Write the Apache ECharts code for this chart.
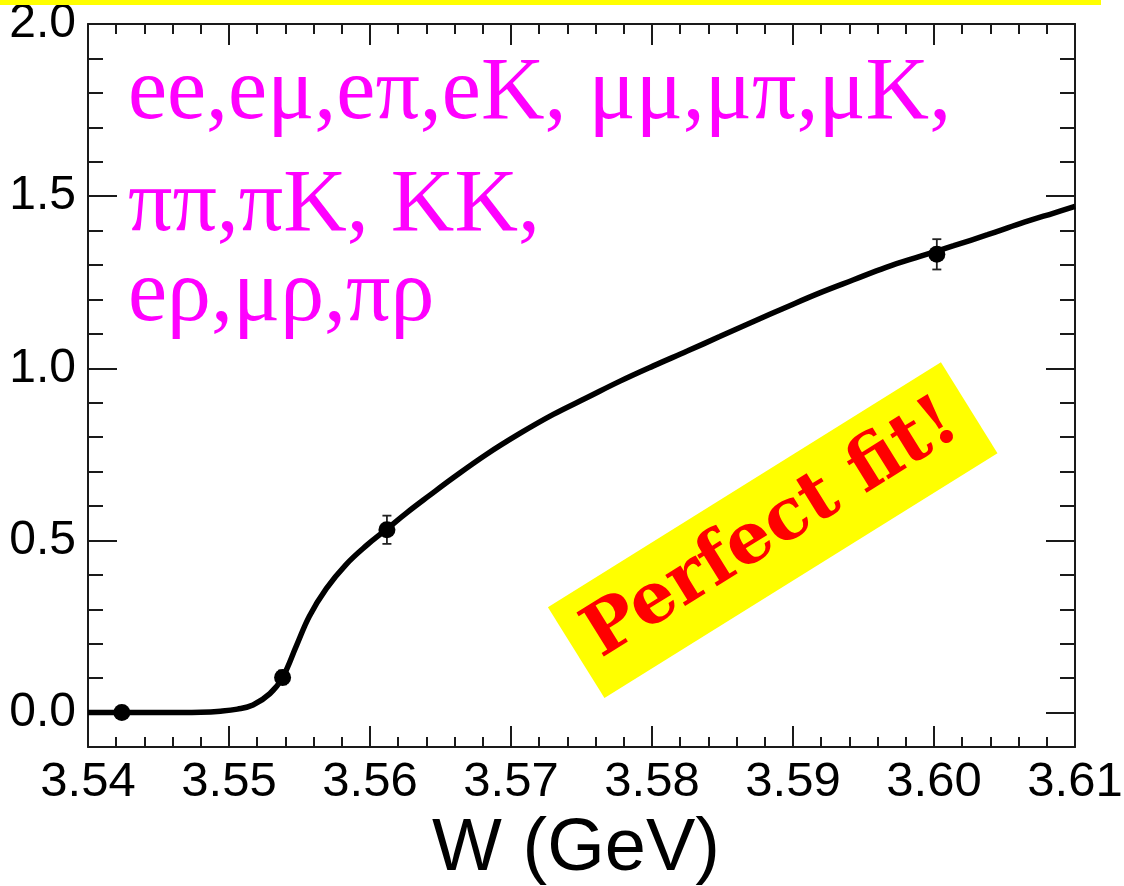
<!DOCTYPE html>
<html>
<head>
<meta charset="utf-8">
<script src="https://cdn.jsdelivr.net/npm/echarts@6/dist/echarts.min.js"></script>
<style>
html,body{margin:0;padding:0;background:#fff;}
#chart{width:1124px;height:886px;}
</style>
</head>
<body>
<div id="chart"></div>
<script>
// ---- data ----
const pointX = [3.5424, 3.5538, 3.5612, 3.6002];
const pointY = [0.0, 0.102, 0.531, 1.331];
const pointErr = [0.0, 0.02, 0.041, 0.044];

const fitX = [3.5400, 3.5450, 3.5480, 3.5494, 3.5506, 3.5517, 3.5529, 3.5538, 3.5548, 3.5557,
              3.5569, 3.5583, 3.5598, 3.5611, 3.5626, 3.5642, 3.5659, 3.5683, 3.5706, 3.5730,
              3.5754, 3.5777, 3.5801, 3.5825, 3.5848, 3.5872, 3.5896, 3.5919, 3.5943, 3.5966,
              3.5990, 3.6014, 3.6038, 3.6061, 3.6085, 3.6100];
const fitY = [0.000, 0.000, 0.001, 0.004, 0.010, 0.022, 0.055, 0.102, 0.196, 0.280,
              0.360, 0.430, 0.487, 0.530, 0.580, 0.630, 0.682, 0.751, 0.810, 0.866,
              0.915, 0.962, 1.007, 1.050, 1.092, 1.136, 1.179, 1.219, 1.257, 1.293,
              1.325, 1.356, 1.388, 1.420, 1.451, 1.470];

const yLabelValues = [0, 0.5, 1.0, 1.5, 2.0];
const xRange = [3.54, 3.61];
const yRange = [-0.1, 2.0];
const channelLines = ['ee,eμ,eπ,eK, μμ,μπ,μK,', 'ππ,πK, KK,', 'eρ,μρ,πρ'];
const xTitle = 'W (GeV)';
const stampText = 'Perfect fit!';

// ---- chart ----
const chart = echarts.init(document.getElementById('chart'), null, {renderer: 'canvas'});
const AX = '#1a1a1a';
const tickFont = 'Liberation Sans';

function xAxisDef(pos, labels) {
  return {
    type: 'value', position: pos, min: xRange[0], max: xRange[1], interval: 0.01,
    axisLine: {show: true, onZero: false, lineStyle: {color: AX, width: 2}},
    axisTick: {show: true, inside: true, length: 21, lineStyle: {color: AX, width: 2}},
    minorTick: {show: true, splitNumber: 5, length: 10, lineStyle: {color: AX, width: 2}},
    splitLine: {show: false}, minorSplitLine: {show: false},
    axisLabel: {show: labels, margin: 11, fontSize: 49, fontFamily: tickFont, color: '#000',
      hideOverlap: false, showMinLabel: true, showMaxLabel: true,
      formatter: v => Number(v).toFixed(2)}
  };
}
function yMinorDef(pos, labels) {
  return {
    type: 'value', position: pos, min: yRange[0], max: yRange[1], interval: 0.1,
    axisLine: {show: true, onZero: false, lineStyle: {color: AX, width: 2}},
    axisTick: {show: true, inside: true, length: 15, lineStyle: {color: AX, width: 2}},
    splitLine: {show: false},
    axisLabel: {show: labels, margin: 12, fontSize: 48, fontFamily: tickFont, color: '#000',
      customValues: yLabelValues, hideOverlap: false,
      formatter: v => Number(v).toFixed(1)}
  };
}
function yMajorDef(pos) {
  return {
    type: 'value', position: pos, min: yRange[0], max: yRange[1], interval: 0.1,
    axisLine: {show: false},
    axisTick: {show: true, inside: true, length: 29, customValues: yLabelValues,
      lineStyle: {color: AX, width: 2}},
    splitLine: {show: false},
    axisLabel: {show: false}
  };
}

const magentaStyle = (t) => ({text: t, font: '88px "Liberation Serif"', fill: '#ff00ff',
  textAlign: 'left', textVerticalAlign: 'middle', align: 'left', verticalAlign: 'middle'});

const option = {
  animation: false,
  backgroundColor: '#ffffff',
  grid: {left: 88, right: 49, top: 24, bottom: 139, containLabel: false, outerBoundsMode: 'none'},
  xAxis: [xAxisDef('bottom', true), xAxisDef('top', false)],
  yAxis: [yMinorDef('left', true), yMajorDef('left'), yMinorDef('right', false), yMajorDef('right')],
  series: [
    {
      type: 'line', name: 'fit', xAxisIndex: 0, yAxisIndex: 0,
      data: fitX.map((x, i) => [x, fitY[i]]),
      showSymbol: false, smooth: 0.4, z: 2,
      lineStyle: {color: '#000', width: 5.5}
    },
    {
      type: 'custom', name: 'errors', xAxisIndex: 0, yAxisIndex: 0, z: 3,
      data: pointX.map((x, i) => [x, pointY[i], pointErr[i]]),
      renderItem: function (params, api) {
        const x = api.value(0), y = api.value(1), e = api.value(2);
        const hi = api.coord([x, y + e]);
        const lo = api.coord([x, y - e]);
        const cw = 4.5;
        const st = {stroke: '#222', lineWidth: 1.8};
        return {type: 'group', children: [
          {type: 'line', shape: {x1: hi[0], y1: hi[1], x2: lo[0], y2: lo[1]}, style: st},
          {type: 'line', shape: {x1: hi[0] - cw, y1: hi[1], x2: hi[0] + cw, y2: hi[1]}, style: st},
          {type: 'line', shape: {x1: lo[0] - cw, y1: lo[1], x2: lo[0] + cw, y2: lo[1]}, style: st}
        ]};
      }
    },
    {
      type: 'scatter', name: 'data', xAxisIndex: 0, yAxisIndex: 0, z: 4,
      data: pointX.map((x, i) => [x, pointY[i]]),
      symbol: 'circle', symbolSize: 17,
      itemStyle: {color: '#000', opacity: 1}
    }
  ],
  graphic: [
    {type: 'rect', left: 0, top: 0, shape: {x: 0, y: 0, width: 1101, height: 5},
     style: {fill: '#ffff00'}, z: 10},
    {type: 'text', x: 128, y: 95, z: 10, style: magentaStyle(channelLines[0])},
    {type: 'text', x: 128, y: 207, z: 10, style: magentaStyle(channelLines[1])},
    {type: 'text', x: 128, y: 297, z: 10, style: magentaStyle(channelLines[2])},
    {type: 'group', x: 772, y: 530, rotation: 0.557, z: 10, children: [
      {type: 'rect', shape: {x: -231, y: -53, width: 463, height: 107}, style: {fill: '#ffff00'}},
      {type: 'text', x: 0, y: 0,
       style: {text: stampText, font: 'bold 71px "DejaVu Serif"', fill: '#ff0000',
         textAlign: 'center', textVerticalAlign: 'middle', align: 'center', verticalAlign: 'middle'}}
    ]},
    {type: 'text', x: 576, y: 850, z: 10,
     style: {text: xTitle, font: '74px "Liberation Sans"', fill: '#000',
       textAlign: 'center', textVerticalAlign: 'middle', align: 'center', verticalAlign: 'middle'}}
  ]
};
chart.setOption(option);
</script>
</body>
</html>
